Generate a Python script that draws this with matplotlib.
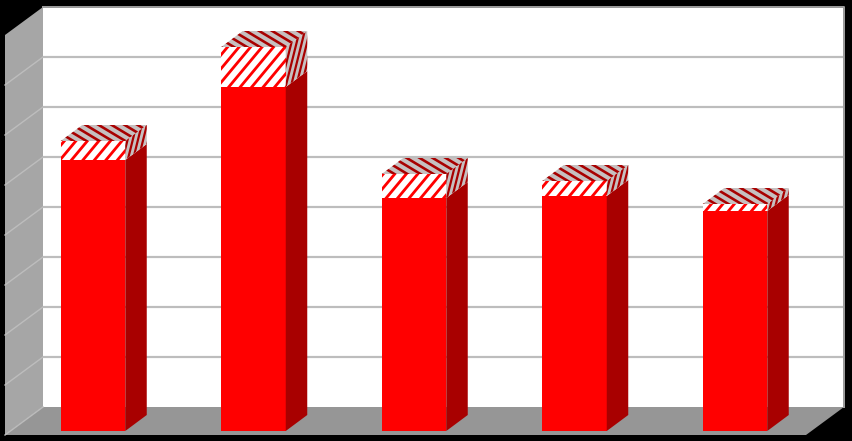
import numpy as np
import matplotlib
matplotlib.use("Agg")
import matplotlib.pyplot as plt
from matplotlib.patches import Polygon

# =====================================
# Data
# =====================================

categories = [0, 1, 2, 3, 4]
solid_values = [5.42, 6.88, 4.66, 4.70, 4.40]
hatch_values = [0.38, 0.80, 0.48, 0.30, 0.14]
grid_values = [0, 1, 2, 3, 4, 5, 6, 7, 8]

# =====================================
# Colours and 3D look
# =====================================

RED = "#ff0000"
DARK_RED = "#a80000"
STRIPE_DARK = "#a80000"
STRIPE_GREY = "#c6c0c0"
WALL = "#a6a6a6"
FLOOR = "#969696"
GRID = "#bdbdbd"

# one category = 160.5 px, one value unit = 50 px
X_UNIT = 160.5
Y_UNIT = 50

fig = plt.figure(figsize=(852 / 72, 441 / 72), dpi=72, facecolor="black")
ax = fig.add_axes([0, 0, 1, 1])
ax.set_axis_off()

# zero of the front plane sits at y=431, first bar centre at x=93
ax.set_xlim(-93 / X_UNIT, (852 - 93) / X_UNIT)
ax.set_ylim((431 - 441) / Y_UNIT, 431 / Y_UNIT)

BAR_W = 64.5 / X_UNIT
BAR_DX = 21.5 / X_UNIT
BAR_DY = 16 / Y_UNIT
WALL_DX = 38 / X_UNIT
WALL_DY = 28 / Y_UNIT

# plot box corners
left = -88 / X_UNIT
right = 713 / X_UNIT
back_left = left + WALL_DX
back_right = right + WALL_DX
back_y = 24 / Y_UNIT


def poly(points, color, z=1, lw=0):
    p = Polygon(points, closed=True, facecolor=color, edgecolor=color, linewidth=lw, zorder=z)
    ax.add_patch(p)
    return p


def stripes(points, bg, fg, run, rise, step, width, z):
    # stripes with pixel direction (run, rise), repeated sideways every step px, clipped to the face
    clip = poly(points, bg, z)
    pts = np.array(points)
    xmin = pts[:, 0].min() * X_UNIT
    xmax = pts[:, 0].max() * X_UNIT
    ymid = pts[:, 1].mean()
    reach = 200
    slope = run / rise
    height = (pts[:, 1].max() - pts[:, 1].min()) * Y_UNIT
    pad = abs(slope) * height + step
    for x0 in np.arange(xmin - pad, xmax + pad, step):
        dx = reach * slope
        line, = ax.plot([(x0 - dx) / X_UNIT, (x0 + dx) / X_UNIT],
                        [ymid - reach / Y_UNIT, ymid + reach / Y_UNIT],
                        color=fg, lw=width, solid_capstyle="butt", zorder=z + 0.1)
        line.set_clip_path(clip)


# =====================================
# Walls, floor, gridlines
# =====================================

poly([(back_left, back_y), (back_right, back_y), (back_right, grid_values[-1] + back_y),
      (back_left, grid_values[-1] + back_y)], "white", 1)
poly([(left, back_y - WALL_DY), (back_left, back_y), (back_left, grid_values[-1] + back_y),
      (left, grid_values[-1] + back_y - WALL_DY)], WALL, 1)
poly([(left, back_y - WALL_DY), (back_left, back_y), (back_right, back_y),
      (right, back_y - WALL_DY)], FLOOR, 1)

for g in grid_values[1:-1]:
    ax.plot([back_left, back_right], [g + back_y, g + back_y], color=GRID, lw=2.2, zorder=2, solid_capstyle="butt")
for g in grid_values[:-1]:
    ax.plot([left, back_left], [g + back_y - WALL_DY, g + back_y], color=GRID, lw=1.4, zorder=2)

# outline of the back wall
ax.plot([back_left, back_right, back_right], [grid_values[-1] + back_y, grid_values[-1] + back_y, back_y],
        color="#9a9a9a", lw=2, zorder=2)

# =====================================
# Bars
# =====================================

for cat, solid, extra in zip(categories, solid_values, hatch_values):
    x0 = cat - BAR_W / 2
    x1 = cat + BAR_W / 2
    top = solid + extra

    # solid part
    ax.bar(cat, solid, width=BAR_W, color=RED, linewidth=0, zorder=3)
    poly([(x1, 0), (x1 + BAR_DX, BAR_DY), (x1 + BAR_DX, solid + BAR_DY), (x1, solid)], DARK_RED, 3)

    # hatched part, front
    stripes([(x0, solid), (x1, solid), (x1, top), (x0, top)],
            "white", RED, 1, 1.2, 11.5, 2.8, 4)

    # hatched part, side
    stripes([(x1, solid), (x1 + BAR_DX, solid + BAR_DY), (x1 + BAR_DX, top + BAR_DY), (x1, top)],
            STRIPE_GREY, STRIPE_DARK, 1, 4, 5.2, 2.2, 4)

    # hatched part, top
    stripes([(x0, top), (x1, top), (x1 + BAR_DX, top + BAR_DY), (x0 + BAR_DX, top + BAR_DY)],
            STRIPE_GREY, STRIPE_DARK, 5, -3, 13, 2.6, 4)

fig.savefig("out.png", dpi=72, facecolor="black")
